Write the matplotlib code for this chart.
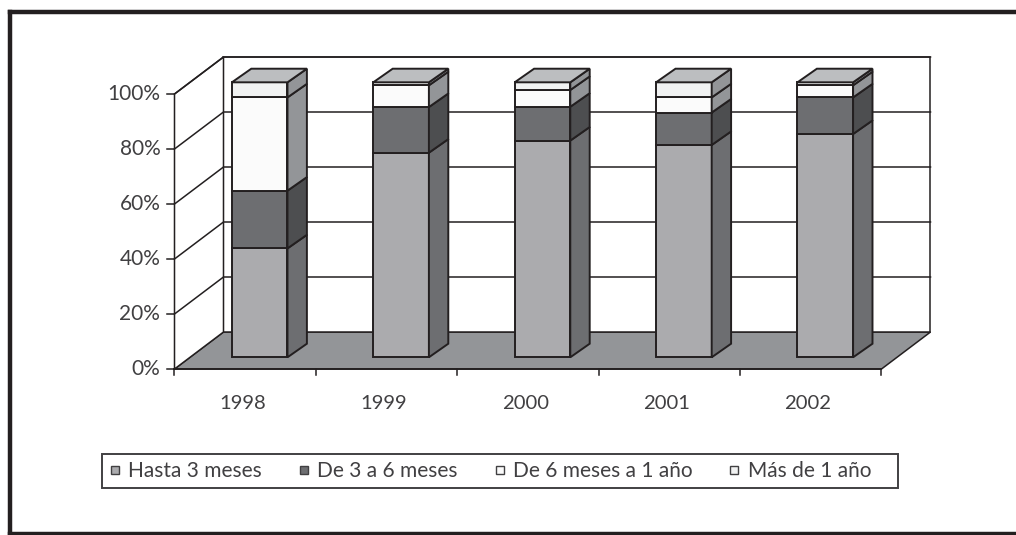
import matplotlib
matplotlib.use('Agg')
import matplotlib.pyplot as plt
from matplotlib.patches import Polygon, Rectangle
from matplotlib.lines import Line2D

years = ['1998', '1999', '2000', '2001', '2002']
series_names = ['Hasta 3 meses', 'De 3 a 6 meses', 'De 6 meses a 1 año', 'Más de 1 año']
hasta_3 = [39.6, 74.4, 78.8, 77.2, 81.2]
de_3_a_6 = [21.0, 16.6, 12.3, 11.8, 13.3]
de_6_a_12 = [33.9, 7.9, 6.1, 5.5, 4.4]
mas_1 = [5.5, 1.1, 2.8, 5.5, 1.1]
yticks = [0, 20, 40, 60, 80, 100]

front_cols = ['#ababae', '#6d6e71', '#fbfbfb', '#f1f2f2']
side_cols = ['#6d6e71', '#4d4e50', '#939598', '#939598']
top_col = '#bcbec0'
floor_col = '#939598'
line_col = '#231f20'
text_col = '#414042'

W, H = 1016, 535
plt.rcParams['font.family'] = ['Lato', 'DejaVu Sans']

fig = plt.figure(figsize=(W / 100, H / 100), dpi=100)
fig.patch.set_facecolor('white')

# data axes over the whole figure: x in category units, y in percent
ax = fig.add_axes([0, 0, 1, 1])
ax.set_xlim((0 - 174.5) / 141.4, (W - 174.5) / 141.4)
ax.set_ylim((369 - H) / 2.75, 369 / 2.75)
ax.axis('off')

n = len(years)
depth_x = 49 / 141.4
depth_y = 37 / 2.75
bar_w = 55.6 / 141.4
bar_d0 = 0.316
bar_dx = 19.4 / 141.4
bar_dy = 13.6 / 2.75


def pt(x, y, d):
    return (x + d * depth_x, y + d * depth_y)


def back(p):
    return (p[0] + bar_dx, p[1] + bar_dy)


# floor and walls
ax.add_patch(Polygon([pt(0, 0, 0), pt(n, 0, 0), pt(n, 0, 1), pt(0, 0, 1)], fc=floor_col, ec=line_col, lw=1.1, zorder=1))
ax.add_patch(Polygon([pt(0, 0, 1), pt(n, 0, 1), pt(n, 100, 1), pt(0, 100, 1)], fc='white', ec=line_col, lw=1.1, zorder=1))
ax.add_patch(Polygon([pt(0, 0, 0), pt(0, 0, 1), pt(0, 100, 1), pt(0, 100, 0)], fc='white', ec=line_col, lw=1.1, zorder=1))

for v in yticks:
    if v > 0:
        ax.plot(*zip(pt(0, v, 0), pt(0, v, 1), pt(n, v, 1)), color=line_col, lw=1.1, zorder=2, solid_joinstyle='miter')
    ax.plot([-0.05, 0], [v, v], color=line_col, lw=1.1, zorder=2)
    ax.text(-0.1, v, str(v) + '%', ha='right', va='center', fontsize=15, color=text_col)
ax.plot([0, n], [0, 0], color=line_col, lw=1.3, zorder=3)
for i in range(n + 1):
    ax.plot([i, i], [0, -2.2], color=line_col, lw=1.1, zorder=2)
for i, y in enumerate(years):
    ax.text(i + 0.5 - 0.02, -12.7, y, ha='center', va='center', fontsize=14.6, color=text_col)

# stacked bars with an oblique side and top
all_series = [hasta_3, de_3_a_6, de_6_a_12, mas_1]
for i in range(n):
    x0 = i + 0.5 - bar_w / 2 - 0.007
    x1 = x0 + bar_w
    base = 0
    for s, vals in enumerate(all_series):
        top = base + vals[i]
        a, b, c, d = pt(x0, base, bar_d0), pt(x1, base, bar_d0), pt(x1, top, bar_d0), pt(x0, top, bar_d0)
        ax.add_patch(Polygon([a, b, c, d], fc=front_cols[s], ec=line_col, lw=1.4, zorder=5))
        ax.add_patch(Polygon([b, back(b), back(c), c], fc=side_cols[s], ec=line_col, lw=1.4, zorder=5))
        base = top
    c, d = pt(x1, base, bar_d0), pt(x0, base, bar_d0)
    ax.add_patch(Polygon([d, c, back(c), back(d)], fc=top_col, ec=line_col, lw=1.4, zorder=5))

# legend, box drawn separately since its right margin is wider than the left
fig.add_artist(Rectangle((102 / W, 1 - 488 / H), 796 / W, 34 / H, transform=fig.transFigure,
                         fc='white', ec=text_col, lw=1.4, zorder=-1))
handles = [Line2D([], [], ls='', marker='s', ms=5.5, mfc=front_cols[s], mec=text_col, mew=1.0) for s in range(4)]
leg = ax.legend(handles, series_names, ncol=4, loc='center', bbox_to_anchor=(490 / W, 1 - 471 / H),
                bbox_transform=fig.transFigure, fontsize=15, frameon=False,
                handlelength=0.6, handletextpad=0.35, columnspacing=1.7,
                borderpad=0.4, labelcolor=text_col)

# frame: left, top and bottom lines run off the image on the right
for xs, ys in [([10.3, 10.3], [11.7, 534]), ([10.3, W], [11.7, 11.7]), ([10.3, W], [534, 534])]:
    fig.add_artist(Line2D([x / W for x in xs], [1 - y / H for y in ys], color=line_col, lw=3.2))

fig.savefig('out.png', dpi=100)
